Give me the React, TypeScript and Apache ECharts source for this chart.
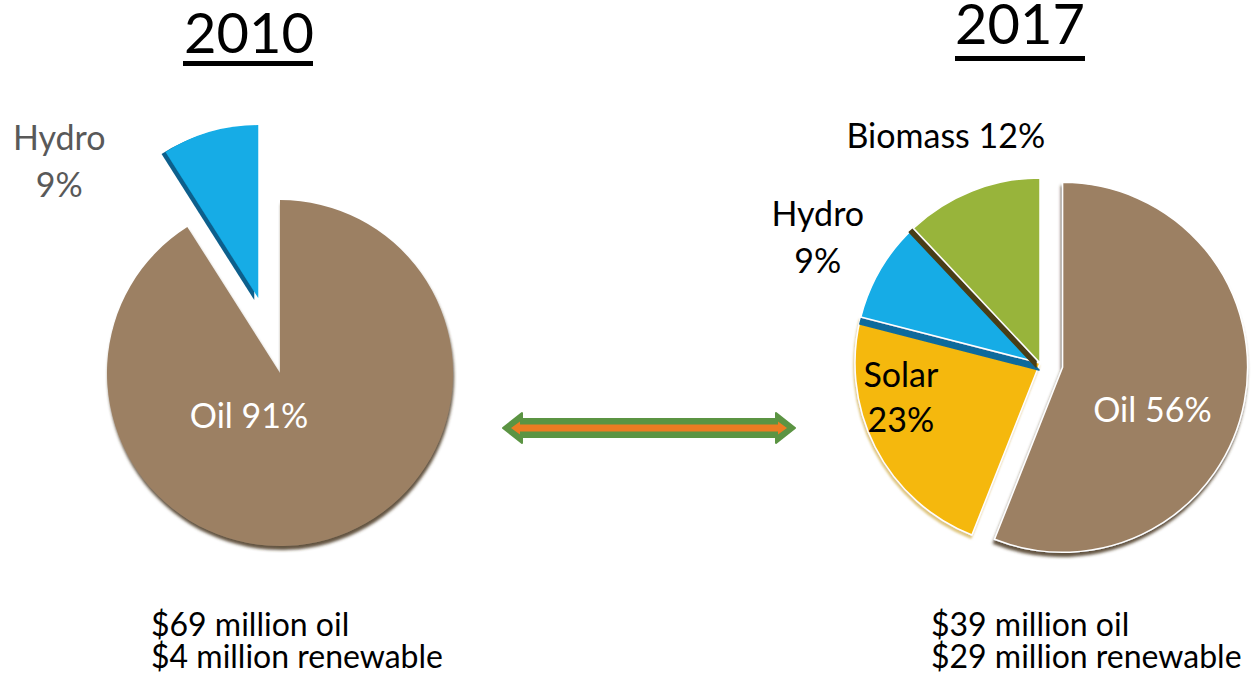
import React, { useEffect, useRef } from 'react';
import * as echarts from 'echarts';

// ---- data ----
const years = ['2010', '2017'];
const categories2010 = ['Oil', 'Hydro'];
const values2010 = [91, 9];
const categories2017 = ['Oil', 'Solar', 'Hydro', 'Biomass'];
const values2017 = [56, 23, 9, 12];
const notes2010 = ['$69 million oil', '$4 million renewable'];
const notes2017 = ['$39 million oil', '$29 million renewable'];

// ---- styles ----
const FONT = 'Lato, "Open Sans", sans-serif';
const COLORS: Record<string, string> = {
  Oil: '#9C8064',
  Hydro: '#12ACE6',
  Solar: '#F5B80F',
  Biomass: '#98B43A',
};
type Side = { c: string; x: number; y: number; b: number };
const SIDE2010: Record<string, Side> = {
  Oil: { c: 'rgba(72,52,32,0.85)', x: 1, y: 4, b: 3 },
  Hydro: { c: '#0A5F8C', x: -4, y: 2, b: 1 },
};
const SIDE2017: Record<string, Side> = {
  Oil: { c: 'rgba(72,52,32,0.85)', x: -1, y: 4, b: 3 },
  Solar: { c: 'rgba(190,140,0,0.5)', x: -1, y: 3, b: 2 },
  Hydro: { c: '#0A6A9C', x: -1, y: 7, b: 1 },
  Biomass: { c: '#4A3D12', x: -4, y: 4, b: 1 },
};
const MULTILINE: Record<string, boolean> = { Hydro: true, Solar: true };

// label nudges (layout only)
const NUDGE2010 = [[-56, -44], [-174, -52]];
const NUDGE2017 = [[-4, 23], [-54, -10], [-140, -78], [-59, -140]];

function buildItems(cats: string[], vals: number[], year: string) {
  const sides = year === '2010' ? SIDE2010 : SIDE2017;
  return cats.map((name, i) => {
    const isOil = name === 'Oil';
    const s = sides[name];
    const labelColor = isOil ? '#ffffff' : year === '2010' ? '#595959' : '#000000';
    return {
      name,
      value: vals[i],
      selected: year === '2010' ? name === 'Hydro' : isOil,
      itemStyle: {
        color: COLORS[name],
        shadowColor: s.c,
        shadowOffsetX: s.x,
        shadowOffsetY: s.y,
        shadowBlur: s.b,
      },
      label: {
        show: true,
        position: 'inside',
        formatter: MULTILINE[name] ? '{b}\n{c}%' : '{b} {c}%',
        color: labelColor,
        fontFamily: FONT,
        fontSize: 34,
        lineHeight: MULTILINE[name] ? (name === 'Solar' ? 45 : 47) : 40,
      },
    };
  });
}

export default function App() {
  const ref = useRef<HTMLDivElement>(null);
  useEffect(() => {
    if (!ref.current) return;
    const chart = echarts.init(ref.current, undefined, { renderer: 'svg' });

    const els: any[] = [];
    // titles
    const titleCfg = [
      { x: 249, y: 31, ul: [183, 61, 130, 5] },
      { x: 1020, y: 22, ul: [955, 56, 130, 5] },
    ];
    years.forEach((yr, i) => {
      const t = titleCfg[i];
      els.push({
        type: 'text',
        x: t.x,
        y: t.y,
        style: {
          text: yr,
          fontFamily: FONT,
          fontSize: 56,
          fill: '#000',
          align: 'center',
          verticalAlign: 'middle',
        },
      });
      els.push({
        type: 'rect',
        shape: { x: t.ul[0], y: t.ul[1], width: t.ul[2], height: t.ul[3] },
        style: { fill: '#000' },
      });
    });
    // notes
    const noteCfg = [
      { x: 151, y: 639, lines: notes2010 },
      { x: 931, y: 639, lines: notes2017 },
    ];
    noteCfg.forEach((n) => {
      els.push({
        type: 'text',
        x: n.x,
        y: n.y,
        style: {
          text: n.lines.join('\n'),
          fontFamily: FONT,
          fontSize: 32,
          lineHeight: 32,
          fill: '#000',
          align: 'left',
          verticalAlign: 'middle',
        },
      });
    });
    // double arrow
    els.push({
      type: 'polygon',
      shape: {
        points: [
          [503, 428], [522, 413], [522, 419], [776, 419], [776, 413],
          [795, 428], [776, 443], [776, 437], [522, 437], [522, 443],
        ],
      },
      style: { fill: '#5B9443', stroke: '#5B9443', lineWidth: 2, lineJoin: 'round' },
    });
    els.push({
      type: 'polygon',
      shape: {
        points: [
          [511, 428], [520, 421.5], [520, 424.5], [778, 424.5], [778, 421.5],
          [787, 428], [778, 434.5], [778, 431.5], [520, 431.5], [520, 434.5],
        ],
      },
      style: { fill: '#EC7C22' },
    });

    const option: any = {
      animation: false,
      backgroundColor: '#ffffff',
      graphic: { elements: els },
      series: [
        {
          type: 'pie',
          center: [280, 373],
          radius: [0, 173],
          startAngle: 90,
          clockwise: true,
          selectedMode: 'multiple',
          selectedOffset: 78,
          silent: true,
          emphasis: { disabled: true },
          labelLine: { show: false },
          data: buildItems(categories2010, values2010, '2010'),
          labelLayout: (p: any) => ({ dx: NUDGE2010[p.dataIndex][0], dy: NUDGE2010[p.dataIndex][1] }),
        },
        {
          type: 'pie',
          center: [1040, 363],
          radius: [0, 185],
          startAngle: 90,
          clockwise: true,
          selectedMode: 'multiple',
          selectedOffset: 23,
          silent: true,
          emphasis: { disabled: true },
          labelLine: { show: false },
          itemStyle: { borderColor: '#ffffff', borderWidth: 1.5 },
          data: buildItems(categories2017, values2017, '2017'),
          labelLayout: (p: any) => ({ dx: NUDGE2017[p.dataIndex][0], dy: NUDGE2017[p.dataIndex][1] }),
        },
      ],
    };
    chart.setOption(option);
    return () => chart.dispose();
  }, []);

  return (
    <div
      ref={ref}
      style={{ position: 'absolute', left: 0, top: 0, width: 1251, height: 686, background: '#fff' }}
    />
  );
}
